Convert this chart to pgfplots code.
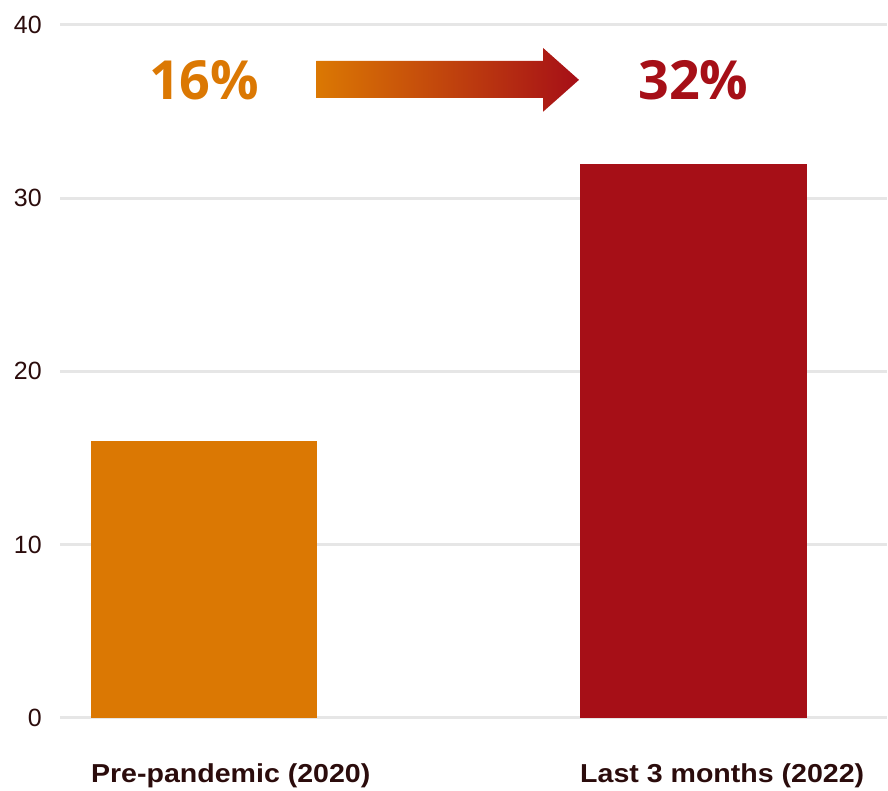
\documentclass[border=0pt]{standalone}
\usepackage{pgfplots}
\pgfplotsset{compat=1.18}
\usepackage{fontspec}
\setmainfont{Liberation Sans}
\newfontfamily\labfont[FakeStretch=1.1]{Liberation Sans}
\newfontfamily\numfont{Open Sans}
\usetikzlibrary{calc}
\definecolor{cOrange}{HTML}{DB7803}
\definecolor{cRed}{HTML}{A60F17}
\definecolor{cText}{HTML}{2B0C0C}
\definecolor{cGrid}{HTML}{E6E6E6}
\begin{document}
\begin{tikzpicture}
\begin{axis}[
  scale only axis, width=828pt, height=694pt,
  xmin=-0.295, xmax=1.395, ymin=0, ymax=40,
  axis line style={draw=none},
  ytick={0,10,20,30,40},
  ymajorgrids, grid style={cGrid, line width=3pt},
  major tick length=0pt,
  xtick={0,1},
  xticklabels={Pre-pandemic (2020), Last 3 months (2022)},
  tick label style={text=cText, inner sep=0pt},
  /pgf/number format/assume math mode=true,
  yticklabel style={font=\fontsize{25}{28}\selectfont, anchor=east, xshift=-18pt},
  xticklabel style={font=\labfont\bfseries\fontsize{26}{30}\selectfont, anchor=base west, xshift=-113.5pt, yshift=-65pt},
  ybar, bar width=227pt, bar shift=0pt,
  clip=false,
]
\addplot[fill=cOrange, draw=none] coordinates {(0,16)};
\addplot[fill=cRed, draw=none] coordinates {(1,32)};
\shade[left color=cOrange, right color=cRed]
  (axis cs:0.2296,37.93) -- (axis cs:0.6929,37.93) -- (axis cs:0.6929,38.67)
  -- (axis cs:0.7663,36.83) -- (axis cs:0.6929,34.99) -- (axis cs:0.6929,35.79)
  -- (axis cs:0.2296,35.79) -- cycle;
\node[font=\numfont\bfseries\fontsize{54}{54}\selectfont, text=cOrange, inner sep=0pt] at (axis cs:0,36.83) {16\%};
\node[font=\numfont\bfseries\fontsize{54}{54}\selectfont, text=cRed, inner sep=0pt] at (axis cs:1,36.83) {32\%};
\end{axis}
\path ($(current axis.south west)+(-60pt,-73pt)$) rectangle ($(current axis.north east)+(0pt,25pt)$);
\end{tikzpicture}
\end{document}
